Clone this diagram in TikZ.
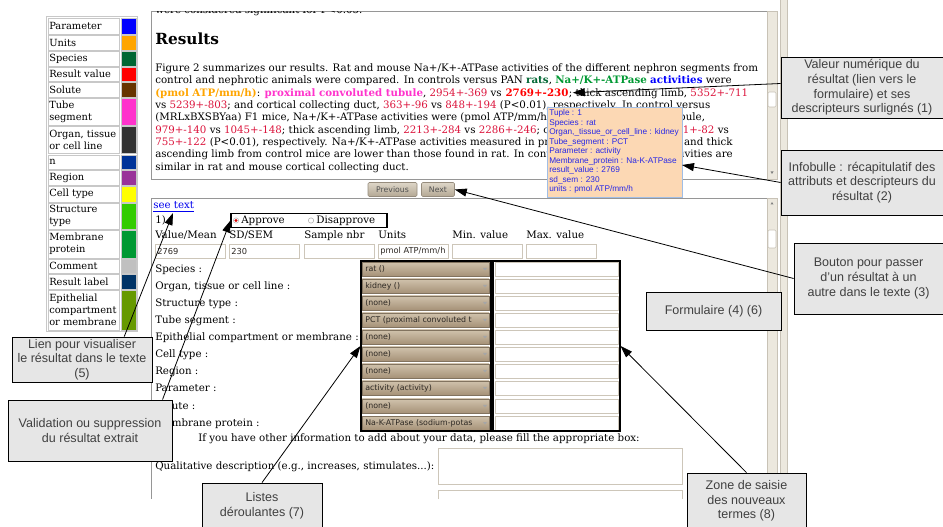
\documentclass[tikz,border=0pt]{standalone}
\usepackage{fontspec}
\setmainfont{DejaVu Serif}
\setsansfont{Liberation Sans}
\newfontfamily\uifont{DejaVu Sans}
\usetikzlibrary{arrows.meta,calc,positioning}

\definecolor{paramblue}{RGB}{0,0,255}
\definecolor{unitorange}{RGB}{255,165,0}
\definecolor{speciesgreen}{RGB}{0,102,51}
\definecolor{resultred}{RGB}{255,0,0}
\definecolor{solutebrown}{RGB}{102,51,0}
\definecolor{tubepink}{RGB}{255,51,204}
\definecolor{organgrey}{RGB}{51,51,51}
\definecolor{nblue}{RGB}{0,51,153}
\definecolor{regionpurple}{RGB}{153,51,153}
\definecolor{cellyellow}{RGB}{255,255,0}
\definecolor{structgreen}{RGB}{51,204,0}
\definecolor{membgreen}{RGB}{0,153,51}
\definecolor{commentgrey}{RGB}{192,192,192}
\definecolor{labelnavy}{RGB}{0,51,102}
\definecolor{epigreen}{RGB}{102,153,0}
\definecolor{valcrimson}{RGB}{220,20,60}
\definecolor{calloutfill}{RGB}{230,230,230}
\definecolor{callouttext}{RGB}{64,64,64}
\definecolor{paneline}{RGB}{150,150,150}
\definecolor{legline}{RGB}{200,200,200}
\definecolor{tipfill}{RGB}{252,216,180}
\definecolor{tipedge}{RGB}{160,190,230}
\definecolor{tiptext}{RGB}{40,40,230}
\definecolor{selecttop}{RGB}{208,194,172}
\definecolor{selectbottom}{RGB}{166,146,120}
\definecolor{selectedge}{RGB}{130,115,95}
\definecolor{fieldedge}{RGB}{205,198,185}
\definecolor{uitext}{RGB}{45,40,35}
\definecolor{buttontop}{RGB}{222,214,200}
\definecolor{buttonbottom}{RGB}{180,168,148}
\definecolor{buttonedge}{RGB}{150,140,125}
\definecolor{buttontext}{RGB}{80,80,80}
\definecolor{scrollbeige}{RGB}{236,232,222}
\definecolor{scrolledge}{RGB}{200,194,182}
\definecolor{linkblue}{RGB}{0,0,238}

\newcommand{\rv}[1]{\textcolor{valcrimson}{#1}}
\newcommand{\hl}[2]{\textbf{\textcolor{#1}{#2}}}

\tikzset{
  txt/.style={anchor=base west, inner sep=0pt, font=\fontsize{7.7}{9}\selectfont},
  ui/.style={anchor=west, inner sep=0pt, font=\uifont\fontsize{6.2}{7}\selectfont, text=uitext},
  legbox/.style={draw=legline, line width=0.5pt},
  field/.style={draw=fieldedge, fill=white, line width=0.6pt},
  selectbox/.style={draw=selectedge, top color=selecttop, bottom color=selectbottom, line width=0.4pt},
  button/.style={draw=buttonedge, rounded corners=1pt, top color=buttontop, bottom color=buttonbottom,
    inner sep=0pt, minimum height=10.5pt, font=\uifont\fontsize{5.8}{6}\selectfont, text=buttontext},
  scroll/.style={fill=scrollbeige, draw=scrolledge, line width=0.4pt},
  callout/.style={draw=black, fill=calloutfill, text=callouttext, align=center, inner sep=0pt,
    line width=0.6pt, font=\sffamily\fontsize{9.4}{11}\selectfont},
  pointer/.style={-{Triangle[length=9pt,width=6pt]}, line width=0.6pt},
}

\begin{document}
\begin{tikzpicture}[x=0.75pt, y=-0.75pt]

    \fill[white] (0,0) rectangle (943,527);
    \useasboundingbox (0,0) rectangle (943,527);

    % scrollbars on the right of both panes
    \draw[scroll] (780,-2) rectangle (787,530);
    \draw[scroll] (767,11) rectangle (777,179);
    \draw[scroll, fill=white, rounded corners=1pt] (768,92) rectangle (776,107);
    \fill[gray] (770.5,171.5) -- (773.5,171.5) -- (772,174) -- cycle;
    \draw[scroll] (767,198) rectangle (777,530);
    \draw[scroll, fill=white, rounded corners=1pt] (768,230) rectangle (776,248);
    \fill[gray] (770.5,204.5) -- (773.5,204.5) -- (772,202) -- cycle;

    % text pane
    \draw[paneline] (767,11) -- (151,11) -- (151,179) -- (767,179);
    \begin{scope}
        \clip (151,12) rectangle (767,30);
        \node[txt] (avant) at (155,14) {were considered significant for P<0.05.};
    \end{scope}
    \node[anchor=base west, inner sep=0pt, font=\bfseries\fontsize{11.5}{12}\selectfont] (titre) at (155,45) {Results};
    \node[txt] (l1) at (155,71.5) {Figure 2 summarizes our results. Rat and mouse Na+/K+-ATPase activities of the different nephron segments from};
    \node[txt] (l2) at (155,84) {control and nephrotic animals were compared. In controls versus PAN \hl{speciesgreen}{rats}, \hl{membgreen}{Na+/K+-ATPase} \hl{paramblue}{activities} were};
    \node[txt] (l3) at (155,96.5) {\hl{unitorange}{(pmol ATP/mm/h)}: \hl{tubepink}{proximal convoluted tubule}, \rv{2954+-369} vs};
    \node[txt] (res) at (l3.base east) {\ \hl{resultred}{2769+-230}};
    \node[txt] (l3b) at (res.base east) {; thick ascending limb, \rv{5352+-711}};
    \node[txt] (l4) at (155,108.5) {vs \rv{5239+-803}; and cortical collecting duct, \rv{363+-96} vs \rv{848+-194} (P<0.01), respectively. In control versus};
    \node[txt] (l5) at (155,121) {(MRLxBXSBYaa) F1 mice, Na+/K+-ATPase activities were (pmol ATP/mm/h): proximal convoluted tubule,};
    \node[txt] (l6) at (155,133.5) {\rv{979+-140} vs \rv{1045+-148}; thick ascending limb, \rv{2213+-284} vs \rv{2286+-246}; cortical collecting duct, \rv{711+-82} vs};
    \node[txt] (l7) at (155,145.5) {\rv{755+-122} (P<0.01), respectively. Na+/K+-ATPase activities measured in proximal convoluted tubule and thick};
    \node[txt] (l8) at (155,158) {ascending limb from control mice are lower than those found in rat. In contrast, Na+/K+-ATPase activities are};
    \node[txt] (l9) at (155,170.5) {similar in rat and mouse cortical collecting duct.};

    % tooltip
    \node[draw=tipedge, fill=tipfill, line width=0.6pt, anchor=north west, minimum width=101.25pt, minimum height=67.5pt] (infobulle) at (547,107) {};
    \node[anchor=north west, inner sep=0pt, align=left, text=tiptext, font=\sffamily\fontsize{6.2}{7.1}\selectfont] (infotxt) at (549,109.5)
        {Tuple : 1\\Species : rat\\Organ,\_tissue\_or\_cell\_line : kidney\\Tube\_segment : PCT\\Parameter : activity\\Membrane\_protein : Na-K-ATPase\\result\_value : 2769\\sd\_sem : 230\\units : pmol ATP/mm/h};
    \coordinate (tipinfo) at (682,165);

    \node[button, minimum width=36.75pt] (prev) at (392.5,189.5) {Previous};
    \node[button, minimum width=24.75pt] (next) at (438,189.5) {Next};

    % form pane
    \draw[paneline] (767,198) -- (151,198) -- (151,499);
    \node[txt, text=linkblue] (voir) at (153,209) {\underline{see text}};
    \coordinate (voirpt) at (173,213);
    \node[txt] (num) at (155,224) {1)};
    \node[draw=black, line width=0.8pt, minimum width=117pt, minimum height=10.5pt, inner sep=0pt] (choix) at (309,220.5) {};
    \fill[red!85!black] (236,220.5) circle (1.3pt);
    \draw[gray!60] (236,220.5) circle (2pt);
    \draw[gray!70] (311,220.5) circle (2pt);
    \node[txt] (appr) at (241,224) {Approve};
    \node[txt] (disappr) at (316,224) {Disapprove};

    \foreach \xa/\hd/\val [count=\i] in {155/{Value/Mean}/2769, 229/{SD/SEM}/230, 304/{Sample nbr}/{}, 378/Units/{pmol ATP/mm/h}, 452/{Min. value}/{}, 526/{Max. value}/{}} {
        \node[txt] (hd\i) at (\xa,238.5) {\hd};
        \draw[field] (\xa,244) rectangle ({\xa+70},258);
        \node[ui] (in\i) at ({\xa+2},251) {\val};
    }

    \foreach \y/\lab/\opt [count=\i] in {269/{Species :}/{rat ()}, 286/{Organ, tissue or cell line :}/{kidney ()},
        303/{Structure type :}/{(none)}, 320/{Tube segment :}/{PCT (proximal convoluted t},
        337/{Epithelial compartment or membrane :}/{(none)}, 354/{Cell type :}/{(none)}, 371/{Region :}/{(none)},
        388/{Parameter :}/{activity (activity)}, 406/{Solute :}/{(none)}, 423/{Membrane protein :}/{Na-K-ATPase (sodium-potas}} {
        \node[txt] (lab\i) at (155,{\y+3.5}) {\lab};
        \draw[selectbox] (362,{\y-7}) rectangle (489,{\y+7});
        \node[ui, font=\uifont\fontsize{5.9}{7}\selectfont] (opt\i) at (365,\y) {\opt};
        \fill[gray!70] (483,{\y-1}) -- (487,{\y-1}) -- (485,{\y+1.5}) -- cycle;
        \draw[field] (495,{\y-7}) rectangle (618,{\y+7});
    }
    \node[draw=black, line width=0.8pt, minimum width=97.5pt, minimum height=127.5pt] (listes) at (426,346) {};
    \node[draw=black, line width=0.8pt, minimum width=95.25pt, minimum height=127.5pt] (champs) at (556.5,346) {};

    \node[txt] (autre) at (198,441.5) {If you have other information to add about your data, please fill the appropriate box:};
    \node[txt] (quali) at (155,469.5) {Qualitative description (e.g., increases, stimulates...):};
    \draw[field] (438,448) rectangle (682,484);
    \draw[field] (438,499) -- (438,490) -- (682,490) -- (682,499);

    % colour legend
    \foreach \ya/\yb/\lab/\clr in {18/34/Parameter/paramblue, 35/50/Units/unitorange, 51/66/Species/speciesgreen,
        67/81/Result value/resultred, 82/97/Solute/solutebrown, 98/125/{Tube\\segment}/tubepink,
        126/153/{Organ, tissue\\or cell line}/organgrey, 155/169/n/nblue, 170/185/Region/regionpurple,
        186/202/Cell type/cellyellow, 203/229/{Structure\\type}/structgreen, 230/258/{Membrane\\protein}/membgreen,
        259/273/Comment/commentgrey, 274/289/Result label/labelnavy, 290/330/{Epithelial\\compartment\\or membrane}/epigreen} {
        \draw[legbox] (48,\ya) rectangle (119.5,\yb);
        \draw[legbox, fill=\clr] (121,\ya) rectangle (136,\yb);
        \node[anchor=west, inner sep=0pt, align=left, font=\fontsize{7.4}{9}\selectfont] (leg\ya) at (49,{(\ya+\yb)/2}) {\lab};
    }
    \draw[legbox] (46.5,16.5) rectangle (137.5,331.5);

    % callouts
    \node[callout, minimum width=121.5pt, minimum height=45.75pt] (valeur) at (862,87.5) {Valeur numérique du\\résultat (lien vers le\\formulaire) et ses\\descripteurs surlignés (1)};
    \node[callout, minimum width=121.5pt, minimum height=48.75pt] (infob) at (862,182.5) {Infobulle : récapitulatif des\\attributs et descripteurs du\\résultat (2)};
    \node[callout, minimum width=111.75pt, minimum height=53.25pt] (bouton) at (868.5,278.5) {Bouton pour passer\\d'un résultat à un\\autre dans le texte (3)};
    \node[callout, minimum width=101.25pt, minimum height=28.5pt] (formulaire) at (713.5,311) {Formulaire (4) (6)};
    \node[callout, minimum width=89.25pt, minimum height=42pt] (saisie) at (746.5,501) {Zone de saisie\\des nouveaux\\termes (8)};
    \node[callout, minimum width=90pt, minimum height=34.5pt] (deroul) at (262,506) {Listes\\déroulantes (7)};
    \node[callout, minimum width=105pt, minimum height=33.75pt] (lien) at (82,359.5) {Lien pour visualiser\\le résultat dans le texte\\(5)};
    \node[callout, minimum width=123pt, minimum height=45.75pt] (valid) at (90,430.5) {Validation ou suppression\\du résultat extrait};

    % pointers
    \draw[pointer] ($(valeur.west)+(0,-4)$) -- ($(res.east)+(4,0)$);
    \draw[pointer] (infob.west) -- (tipinfo);
    \draw[pointer] (bouton.west) -- (next.east);
    \draw[pointer] (saisie.north) -- (champs.east);
    \draw[pointer] (deroul.north) -- (listes.west);
    \draw[pointer] ($(lien.north west)!0.8!(lien.north east)$) -- (voirpt);
    \draw[pointer] ($(valid.north west)!0.94!(valid.north east)$) -- (choix.west);

\end{tikzpicture}
\end{document}
